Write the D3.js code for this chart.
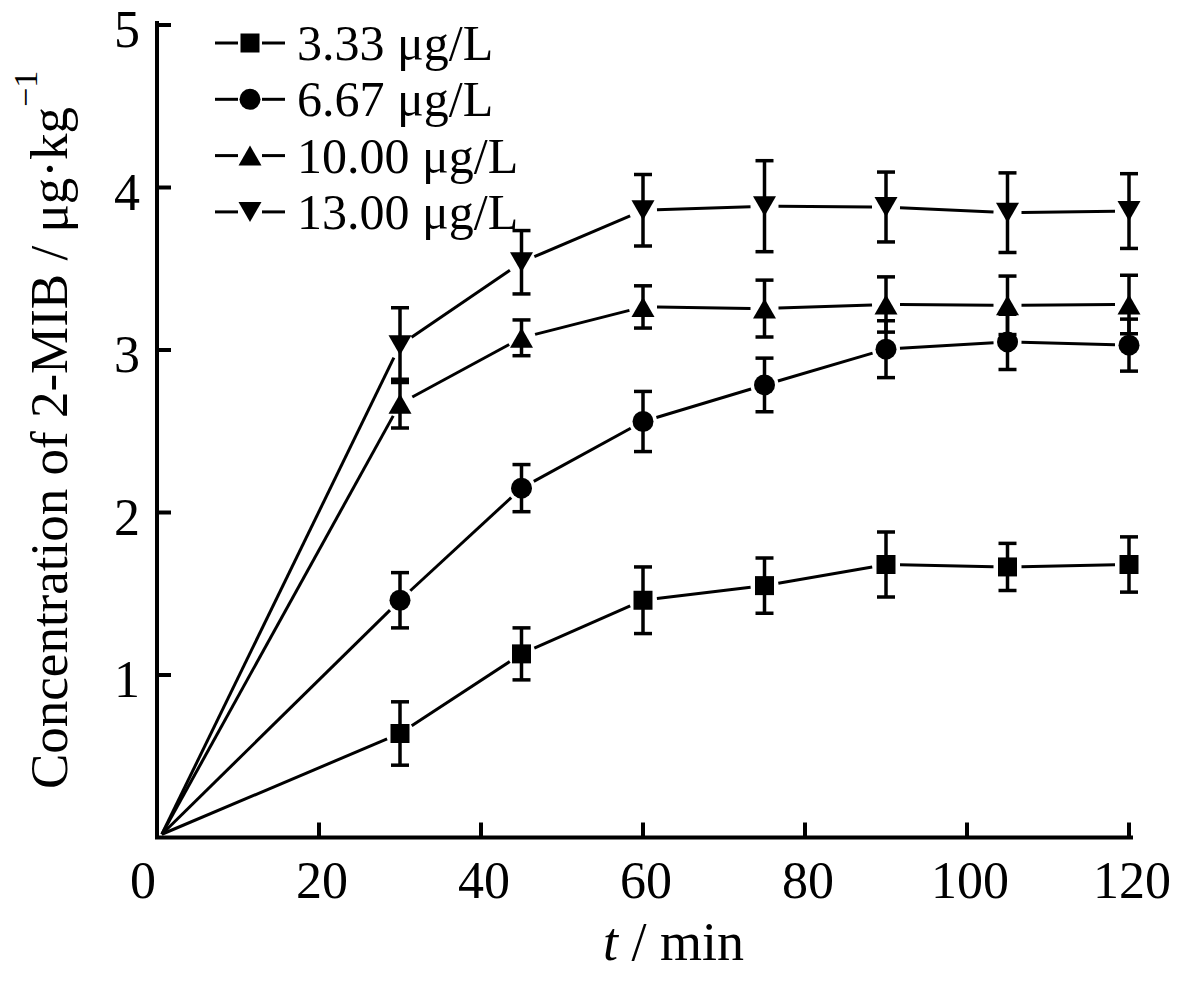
<!DOCTYPE html>
<html><head><meta charset="utf-8">
<script src="https://cdn.jsdelivr.net/npm/d3@7"></script>
<style>body{margin:0;background:#fff}svg{display:block}</style>
</head><body><svg id="c" width="1200" height="986"></svg>
<script>
// ---- data ----
const times = [0.6, 30, 45, 60, 75, 90, 105, 120];
const seriesNames = ["3.33 μg/L", "6.67 μg/L", "10.00 μg/L", "13.00 μg/L"];
const markerTypes = ["square", "circle", "triangle", "invtriangle"];
const conc333 = [0.02, 0.64, 1.13, 1.46, 1.55, 1.68, 1.665, 1.68];
const err333  = [0, 0.195, 0.16, 0.205, 0.17, 0.20, 0.145, 0.17];
const conc667 = [0.02, 1.46, 2.15, 2.56, 2.785, 3.005, 3.05, 3.03];
const err667  = [0, 0.17, 0.145, 0.185, 0.165, 0.175, 0.17, 0.16];
const conc1000 = [0.02, 2.67, 3.075, 3.265, 3.255, 3.28, 3.275, 3.28];
const err1000  = [0, 0.15, 0.11, 0.13, 0.175, 0.17, 0.18, 0.18];
const conc1300 = [0.02, 3.03, 3.54, 3.86, 3.885, 3.88, 3.845, 3.855];
const err1300  = [0, 0.23, 0.195, 0.22, 0.28, 0.215, 0.245, 0.23];
const xTicks = [0, 20, 40, 60, 80, 100, 120];
const yTicks = [1, 2, 3, 4, 5];
const xTitle = ["t", " / min"];
const yTitle = "Concentration of 2-MIB / μg·kg";
const yTitleSup = "−1";

const seriesValues = [conc333, conc667, conc1000, conc1300];
const seriesErrors = [err333, err667, err1000, err1300];

// ---- chart ----
const svg = d3.select("#c");
const font = "'Liberation Serif','Times New Roman',serif";
const x = d3.scaleLinear().domain([0, 120]).range([157, 1129]);
const y = d3.scaleLinear().domain([0, 5]).range([837.5, 25]);

function markerPath(type, cx, cy) {
  const p = d3.path();
  if (type === "square") { p.rect(cx - 9.5, cy - 9.5, 19, 19); }
  else if (type === "circle") { p.arc(cx, cy, 10.5, 0, 2 * Math.PI); }
  else if (type === "triangle") { p.moveTo(cx, cy - 10); p.lineTo(cx + 11.5, cy + 10); p.lineTo(cx - 11.5, cy + 10); p.closePath(); }
  else { p.moveTo(cx, cy + 10); p.lineTo(cx + 11.5, cy - 10); p.lineTo(cx - 11.5, cy - 10); p.closePath(); }
  return p.toString();
}

const gap = 14;
seriesValues.forEach((vals, si) => {
  const errs = seriesErrors[si];
  const pts = times.map((t, i) => ({ t, v: vals[i], e: errs[i], px: x(t), py: y(vals[i]), mark: i > 0 }));
  const g = svg.append("g");
  // lines with gaps around markers
  for (let i = 0; i < pts.length - 1; i++) {
    const a = pts[i], b = pts[i + 1];
    const dx = b.px - a.px, dy = b.py - a.py, L = Math.hypot(dx, dy);
    const ux = dx / L, uy = dy / L;
    const ga = a.mark ? gap : 0, gb = b.mark ? gap : 0;
    g.append("line")
      .attr("x1", a.px + ux * ga).attr("y1", a.py + uy * ga)
      .attr("x2", b.px - ux * gb).attr("y2", b.py - uy * gb)
      .attr("stroke", "#000").attr("stroke-width", 3);
  }
  const mp = pts.filter(p => p.mark);
  // error bars
  mp.forEach(p => {
    const top = y(p.v + p.e), bot = y(p.v - p.e);
    g.append("line").attr("x1", p.px).attr("x2", p.px).attr("y1", top).attr("y2", bot)
      .attr("stroke", "#000").attr("stroke-width", 3.5);
    [top, bot].forEach(yy => g.append("line").attr("x1", p.px - 9).attr("x2", p.px + 9)
      .attr("y1", yy).attr("y2", yy).attr("stroke", "#000").attr("stroke-width", 3.5));
  });
  // markers
  mp.forEach(p => g.append("path").attr("d", markerPath(markerTypes[si], p.px, p.py)).attr("fill", "#000"));
});

// axes
const ax = svg.append("g").attr("stroke", "#000").attr("stroke-width", 4).attr("fill", "none");
ax.append("path").attr("d", `M${x(0)},${y(5) - 2}V${y(0)}H${x(120) + 2}`).attr("stroke-linecap", "square");
xTicks.filter(t => t > 0).forEach(t => ax.append("line").attr("x1", x(t)).attr("x2", x(t)).attr("y1", y(0)).attr("y2", y(0) - 15));
yTicks.forEach(v => ax.append("line").attr("x1", x(0)).attr("x2", x(0) + 14).attr("y1", y(v)).attr("y2", y(v)));

const tl = svg.append("g").attr("font-family", font).attr("font-size", 52).attr("fill", "#000");
xTicks.forEach(t => tl.append("text").attr("x", x(t) + (t === 0 ? -14 : 3)).attr("y", 898)
  .attr("text-anchor", "middle").text(t));
yTicks.forEach(v => tl.append("text").attr("x", 140).attr("y", y(v) + 22)
  .attr("text-anchor", "end").text(v));

// axis titles
const xt = svg.append("text").attr("font-family", font).attr("font-size", 54).attr("x", 603).attr("y", 960);
xt.append("tspan").attr("font-style", "italic").text(xTitle[0]);
xt.append("tspan").text(xTitle[1]);

const yt = svg.append("text").attr("font-family", font).attr("font-size", 53)
  .attr("transform", "translate(67,789) rotate(-90)");
yt.append("tspan").text(yTitle);
yt.append("tspan").attr("font-size", 34).attr("dy", -30).attr("dx", 0).text(yTitleSup);

// legend
const lg = svg.append("g");
seriesNames.forEach((name, i) => {
  const cy = 43 + i * 56.3;
  [[215, 238], [262, 285]].forEach(([a, b]) => lg.append("line").attr("x1", a).attr("x2", b)
    .attr("y1", cy).attr("y2", cy).attr("stroke", "#000").attr("stroke-width", 3));
  lg.append("path").attr("d", markerPath(markerTypes[i], 250, cy)).attr("fill", "#000");
  lg.append("text").attr("x", 297).attr("y", cy + 17).attr("font-family", font)
    .attr("font-size", 50).text(name);
});
</script></body></html>
